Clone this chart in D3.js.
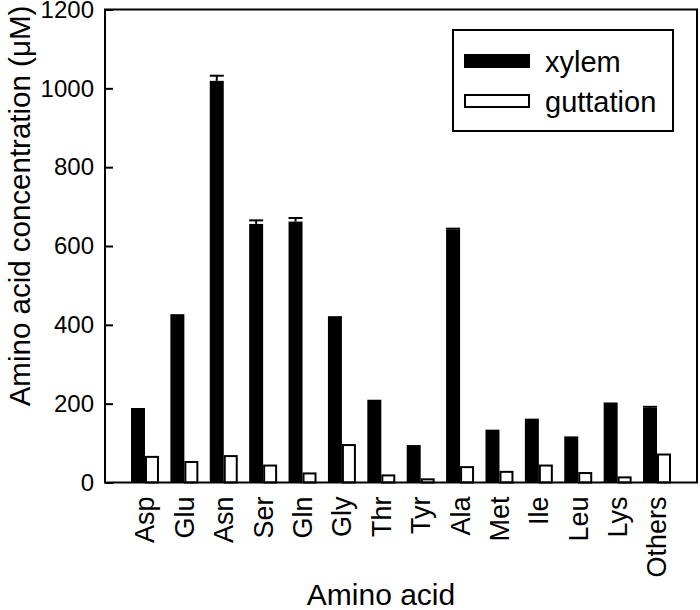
<!DOCTYPE html>
<html>
<head>
<meta charset="utf-8">
<script src="https://cdn.jsdelivr.net/npm/d3@7"></script>
<style>
html,body{margin:0;padding:0;background:#fff;}
text{font-family:Arial,"Liberation Sans",sans-serif;fill:#000;}
</style>
</head>
<body>
<svg id="chart" width="700" height="610"></svg>
<script>
const categories = ["Asp","Glu","Asn","Ser","Gln","Gly","Thr","Tyr","Ala","Met","Ile","Leu","Lys","Others"];
const xylem = [189, 427, 1019, 656, 662, 422, 210, 95, 642, 134, 162, 117, 203, 189];
const xylemErr = [0, 0, 13, 9, 9, 0, 0, 0, 2, 0, 0, 0, 0, 3];
const guttation = [65, 52, 67, 43, 23, 95, 18, 8, 39, 27, 43, 24, 13, 71];
const yTicks = [0, 200, 400, 600, 800, 1000, 1200];
const seriesNames = ["xylem", "guttation"];

const svg = d3.select("#chart");
const L = 105, R = 697, T = 9.5, B = 482.5;
const FONT = "Arial, 'Liberation Sans', sans-serif";

const y = d3.scaleLinear().domain([0, 1200]).range([B, T]);
const x = d3.scaleBand().domain(categories).range([L, R]).paddingInner(0.29).paddingOuter(0.66);
const xs = d3.scaleBand().domain(seriesNames).range([0, x.bandwidth()]);

const data = categories.map((c, i) => ({c, xylem: xylem[i], err: xylemErr[i], guttation: guttation[i]}));

// bars
const g = svg.append("g");
g.selectAll("rect.xy").data(data).enter().append("rect")
  .attr("x", d => x(d.c) + xs("xylem"))
  .attr("width", xs.bandwidth())
  .attr("y", d => y(d.xylem))
  .attr("height", d => y(0) - y(d.xylem))
  .attr("fill", "#000");
g.selectAll("rect.gu").data(data).enter().append("rect")
  .attr("x", d => x(d.c) + xs("guttation") + 1)
  .attr("width", xs.bandwidth() - 2)
  .attr("y", d => y(d.guttation))
  .attr("height", d => y(0) - y(d.guttation))
  .attr("fill", "#fff").attr("stroke", "#000").attr("stroke-width", 2);

// error bars
const eb = g.selectAll("g.eb").data(data.filter(d => d.err > 0)).enter().append("g");
eb.append("line")
  .attr("x1", d => x(d.c) + xs("xylem") + xs.bandwidth()/2)
  .attr("x2", d => x(d.c) + xs("xylem") + xs.bandwidth()/2)
  .attr("y1", d => y(d.xylem)).attr("y2", d => y(d.xylem + d.err))
  .attr("stroke", "#000").attr("stroke-width", 2);
eb.append("line")
  .attr("x1", d => x(d.c) + xs("xylem"))
  .attr("x2", d => x(d.c) + xs("xylem") + xs.bandwidth())
  .attr("y1", d => y(d.xylem + d.err)).attr("y2", d => y(d.xylem + d.err))
  .attr("stroke", "#000").attr("stroke-width", 2);

// frame
svg.append("rect").attr("x", L).attr("y", T).attr("width", R - L).attr("height", B - T)
  .attr("fill", "none").attr("stroke", "#000").attr("stroke-width", 2);

// y axis
const yAxis = d3.axisLeft(y).tickValues(yTicks).tickFormat(d3.format("d")).tickSizeInner(-8).tickSizeOuter(0).tickPadding(11);
const ya = svg.append("g").attr("transform", `translate(${L},0)`).call(yAxis)
  .attr("font-size", 24).attr("font-family", FONT);
ya.select(".domain").remove();
ya.selectAll(".tick line").attr("stroke", "#000").attr("stroke-width", 2);
ya.selectAll(".tick text").attr("fill", "#000");

// x axis labels
const xAxis = d3.axisBottom(x).tickSize(0).tickPadding(0);
const xa = svg.append("g").attr("transform", `translate(0,${B})`).call(xAxis)
  .attr("font-size", 27).attr("font-family", FONT);
xa.select(".domain").remove();
xa.selectAll(".tick text")
  .attr("fill", "#000")
  .attr("transform", "rotate(-90)")
  .attr("text-anchor", "end")
  .attr("x", -14).attr("y", 0).attr("dy", "0.35em");

// axis titles
svg.append("text").attr("x", 381).attr("y", 605).attr("text-anchor", "middle")
  .attr("font-size", 30).text("Amino acid");
svg.append("text").attr("transform", "translate(30,206) rotate(-90)").attr("text-anchor", "middle")
  .attr("font-size", 29.5).text("Amino acid concentration (μM)");

// legend
const lg = svg.append("g");
lg.append("rect").attr("x", 453).attr("y", 30).attr("width", 220).attr("height", 101)
  .attr("fill", "#fff").attr("stroke", "#000").attr("stroke-width", 2);
const items = [{name: "xylem", fill: "#000", y: 55}, {name: "guttation", fill: "#fff", y: 95}];
items.forEach(it => {
  lg.append("rect").attr("x", 465).attr("y", it.y).attr("width", 64).attr("height", 12)
    .attr("fill", it.fill).attr("stroke", "#000").attr("stroke-width", 2);
  lg.append("text").attr("x", 545).attr("y", it.y + 17).attr("font-size", 29).text(it.name);
});
</script>
</body>
</html>
